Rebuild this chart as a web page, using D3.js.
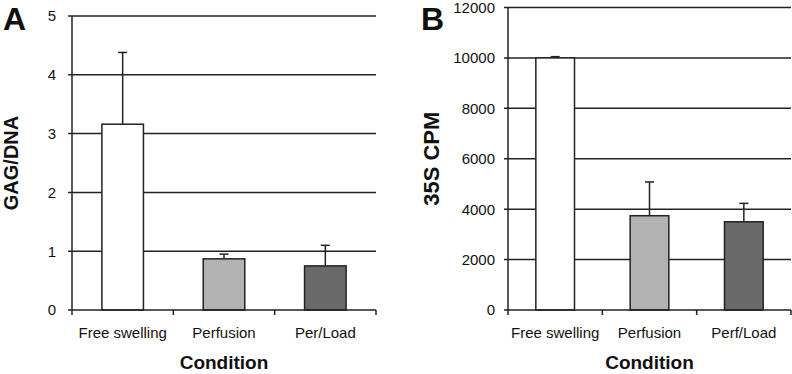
<!DOCTYPE html>
<html>
<head>
<meta charset="utf-8">
<title>GAG/DNA and 35S CPM by condition</title>
<script src="https://d3js.org/d3.v7.min.js"></script>
<style>
  body { margin: 0; background: #fff; }
  text { font-family: "Liberation Sans", Arial, sans-serif; fill: #111; }
</style>
</head>
<body>
<svg width="792" height="374"></svg>
<script>
// panel A
var categoriesA = ["Free swelling", "Perfusion", "Per/Load"];
var gagDna = [3.16, 0.87, 0.75];
var gagDnaErr = [1.22, 0.08, 0.35];
var ticksA = [0, 1, 2, 3, 4, 5];

// panel B
var categoriesB = ["Free swelling", "Perfusion", "Perf/Load"];
var cpm35S = [10000, 3740, 3500];
var cpm35SErr = [50, 1340, 730];
var ticksB = [0, 2000, 4000, 6000, 8000, 10000, 12000];

var barFills = ["#ffffff", "#b2b2b2", "#6a6a6a"];

var svg = d3.select("svg");
var lineCol = "#222";

function panel(opt) {
  var g = svg.append("g");
  var x = d3.scaleBand().domain(opt.cats).range([opt.x0, opt.x1])
    .paddingInner(0.59).paddingOuter(0.295);
  var y = d3.scaleLinear().domain([0, d3.max(opt.ticks)]).range([opt.y0, opt.y1]);

  // gridlines (behind bars)
  g.selectAll(".grid").data(opt.ticks.filter(function(t){ return t > 0; }))
    .enter().append("line")
    .attr("x1", opt.x0 - 4).attr("x2", opt.x1)
    .attr("y1", function(d){ return y(d); }).attr("y2", function(d){ return y(d); })
    .attr("stroke", lineCol).attr("stroke-width", 1.5);

  // tick labels
  g.selectAll(".tl").data(opt.ticks).enter().append("text")
    .attr("x", opt.x0 - opt.labelGap)
    .attr("y", function(d){ return y(d); })
    .attr("dy", "0.36em")
    .attr("text-anchor", "end")
    .attr("font-size", 15)
    .text(function(d){ return d; });

  // bars
  g.selectAll(".bar").data(opt.values).enter().append("rect")
    .attr("x", function(d, i){ return x(opt.cats[i]); })
    .attr("y", function(d){ return y(d); })
    .attr("width", x.bandwidth())
    .attr("height", function(d){ return opt.y0 - y(d); })
    .attr("fill", function(d, i){ return barFills[i]; })
    .attr("stroke", lineCol).attr("stroke-width", 1.5);

  // error bars, upper half only
  opt.values.forEach(function(v, i) {
    var cx = x(opt.cats[i]) + x.bandwidth() / 2;
    var top = y(v + opt.errs[i]);
    g.append("line").attr("x1", cx).attr("x2", cx)
      .attr("y1", y(v)).attr("y2", top)
      .attr("stroke", lineCol).attr("stroke-width", 1.5);
    g.append("line").attr("x1", cx - 4.5).attr("x2", cx + 4.5)
      .attr("y1", top).attr("y2", top)
      .attr("stroke", lineCol).attr("stroke-width", 1.5);
  });

  // axes
  g.append("line").attr("x1", opt.x0).attr("x2", opt.x0)
    .attr("y1", opt.y1).attr("y2", opt.y0)
    .attr("stroke", lineCol).attr("stroke-width", 1.5);
  g.append("line").attr("x1", opt.x0 - 4).attr("x2", opt.x1)
    .attr("y1", opt.y0).attr("y2", opt.y0)
    .attr("stroke", lineCol).attr("stroke-width", 1.5);
  var edges = opt.cats.map(function(c){ return x(c) - x.step() * 0.295; });
  edges.push(opt.x1);
  g.selectAll(".xt").data(edges).enter().append("line")
    .attr("x1", function(d){ return d; }).attr("x2", function(d){ return d; })
    .attr("y1", opt.y0).attr("y2", opt.y0 + 5)
    .attr("stroke", lineCol).attr("stroke-width", 1.5);

  // category labels
  g.selectAll(".cl").data(opt.cats).enter().append("text")
    .attr("x", function(d){ return x(d) + x.bandwidth() / 2; })
    .attr("y", 338)
    .attr("text-anchor", "middle")
    .attr("font-size", 15)
    .text(function(d){ return d; });

  // axis titles
  g.append("text")
    .attr("x", (opt.x0 + opt.x1) / 2).attr("y", 369)
    .attr("text-anchor", "middle")
    .attr("font-size", 19).attr("font-weight", "bold")
    .text("Condition");
  g.append("text")
    .attr("transform", "translate(" + opt.yTitleX + "," + ((opt.y0 + opt.y1) / 2) + ") rotate(-90)")
    .attr("text-anchor", "middle")
    .attr("font-size", opt.yTitleSize).attr("font-weight", "bold")
    .text(opt.yTitle);

  // panel letter
  g.append("text")
    .attr("x", opt.letterX).attr("y", 30)
    .attr("font-size", 32).attr("font-weight", "bold")
    .text(opt.letter);
}

panel({
  cats: categoriesA, values: gagDna, errs: gagDnaErr, ticks: ticksA,
  x0: 72, x1: 376, y0: 310, y1: 16, labelGap: 16,
  yTitle: "GAG/DNA", yTitleX: 18, yTitleSize: 20,
  letter: "A", letterX: 3
});

panel({
  cats: categoriesB, values: cpm35S, errs: cpm35SErr, ticks: ticksB,
  x0: 508, x1: 791, y0: 310, y1: 7.5, labelGap: 13,
  yTitle: "35S CPM", yTitleX: 439, yTitleSize: 22,
  letter: "B", letterX: 421
});
</script>
</body>
</html>
